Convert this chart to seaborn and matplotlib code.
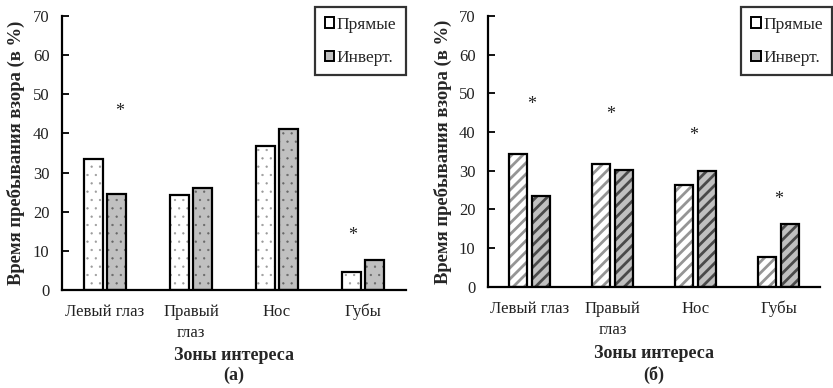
import matplotlib
matplotlib.use("Agg")
import matplotlib.pyplot as plt
from matplotlib.patches import Rectangle
import seaborn as sns
import pandas as pd

zones = ["Левый глаз", "Правый\nглаз", "Нос", "Губы"]
series = ["Прямые", "Инверт."]
a_direct = [33.4, 24.3, 36.9, 4.7]
a_invert = [24.6, 26.1, 41.1, 7.7]
b_direct = [34.4, 31.6, 26.2, 7.7]
b_invert = [23.4, 30.2, 29.9, 16.2]
a_star_zone = [0, 3]
a_star_level = [45.6, 13.8]
b_star_zone = [0, 1, 2, 3]
b_star_level = [47.1, 44.5, 39.1, 22.5]
yticks = [0, 10, 20, 30, 40, 50, 60, 70]
xlabel_text = "Зоны интереса"
ylabel_text = "Время пребывания взора (в %)"
panel_tags = ["(а)", "(б)"]

DPI = 100

sns.set_theme(style="white")
plt.rcParams["font.family"] = ["Liberation Serif", "DejaVu Serif"]

fig = plt.figure(figsize=(833 / DPI, 388 / DPI), dpi=DPI)
ax1 = fig.add_axes([0.0744, 0.2526, 0.413, 0.706])
ax2 = fig.add_axes([0.5858, 0.261, 0.3986, 0.698])


def make_df(d, inv):
    rows = []
    for z, v in zip(zones, d):
        rows.append({"zone": z, "series": series[0], "value": v})
    for z, v in zip(zones, inv):
        rows.append({"zone": z, "series": series[1], "value": v})
    return pd.DataFrame(rows)


def draw(ax, d, inv, hatches, hatch_colors, star_zone, star_level, star_off, tag,
         hlw, leg_x, xpad, ypad):
    df = make_df(d, inv)
    plt.rcParams["hatch.linewidth"] = hlw
    sns.barplot(data=df, x="zone", y="value", hue="series", order=zones,
                hue_order=series, palette=["white", "#c0c0c0"],
                width=0.55, gap=0.2, ax=ax, legend=False)
    n = len(zones)
    for i, p in enumerate(list(ax.patches)):
        s = i // n
        p.set_hatch(hatches[s])
        p.set_edgecolor(hatch_colors[s])
        p.set_linewidth(0)
        if hasattr(p, "set_hatch_linewidth"):
            p.set_hatch_linewidth(hlw)
        ax.add_patch(Rectangle(p.get_xy(), p.get_width(), p.get_height(),
                               fill=False, edgecolor="black", linewidth=1.6,
                               zorder=3))
    for z, lv, off in zip(star_zone, star_level, star_off):
        ax.text(z + off, lv, "*", ha="center", va="center", fontsize=13,
                color="#222222")
    ax.set_ylim(0, 70)
    ax.set_xlim(-0.5, 3.5)
    ax.set_yticks(yticks)
    ax.tick_params(axis="y", direction="in", length=5, width=1.3,
                   color="black", labelsize=12, pad=9, left=True,
                   labelcolor="#222222")
    ax.tick_params(axis="x", length=0, labelsize=12, pad=10,
                   labelcolor="#222222")
    for lbl in ax.get_xticklabels():
        lbl.set_linespacing(1.45)
    for sp in ["top", "right"]:
        ax.spines[sp].set_visible(False)
    for sp in ["left", "bottom"]:
        ax.spines[sp].set_color("black")
        ax.spines[sp].set_linewidth(1.6)
    ax.set_xlabel(xlabel_text + "\n" + tag, fontsize=13, fontweight="bold",
                  labelpad=xpad, linespacing=1.25)
    ax.set_ylabel(ylabel_text, fontsize=13.4, fontweight="bold",
                  labelpad=ypad)
    handles = []
    for s in range(2):
        handles.append(Rectangle((0, 0), 1, 1, facecolor=["white", "#c0c0c0"][s],
                                 edgecolor="black", linewidth=1.4))
    leg = ax.legend(handles, series, loc="upper right",
                    bbox_to_anchor=(leg_x, 1.033), borderaxespad=0, frameon=True,
                    fancybox=False, edgecolor="black", fontsize=12.5,
                    handlelength=0.55, handleheight=0.55, handletextpad=0.15,
                    labelspacing=1.0, borderpad=0.55)
    leg.get_frame().set_linewidth(1.6)


draw(ax1, a_direct, a_invert, ["..", ".."], ["#9a9a9a", "#666666"],
     a_star_zone, a_star_level, [0.17, -0.12], panel_tags[0], 0.4, 1.0, 4, 6)
draw(ax2, b_direct, b_invert, ["///", "///"], ["#959595", "#4a4a4a"],
     b_star_zone, b_star_level, [0.02, -0.02, -0.02, 0.0], panel_tags[1], 2.0,
     1.037, 5, 5)

fig.savefig("out.png", dpi=DPI)
